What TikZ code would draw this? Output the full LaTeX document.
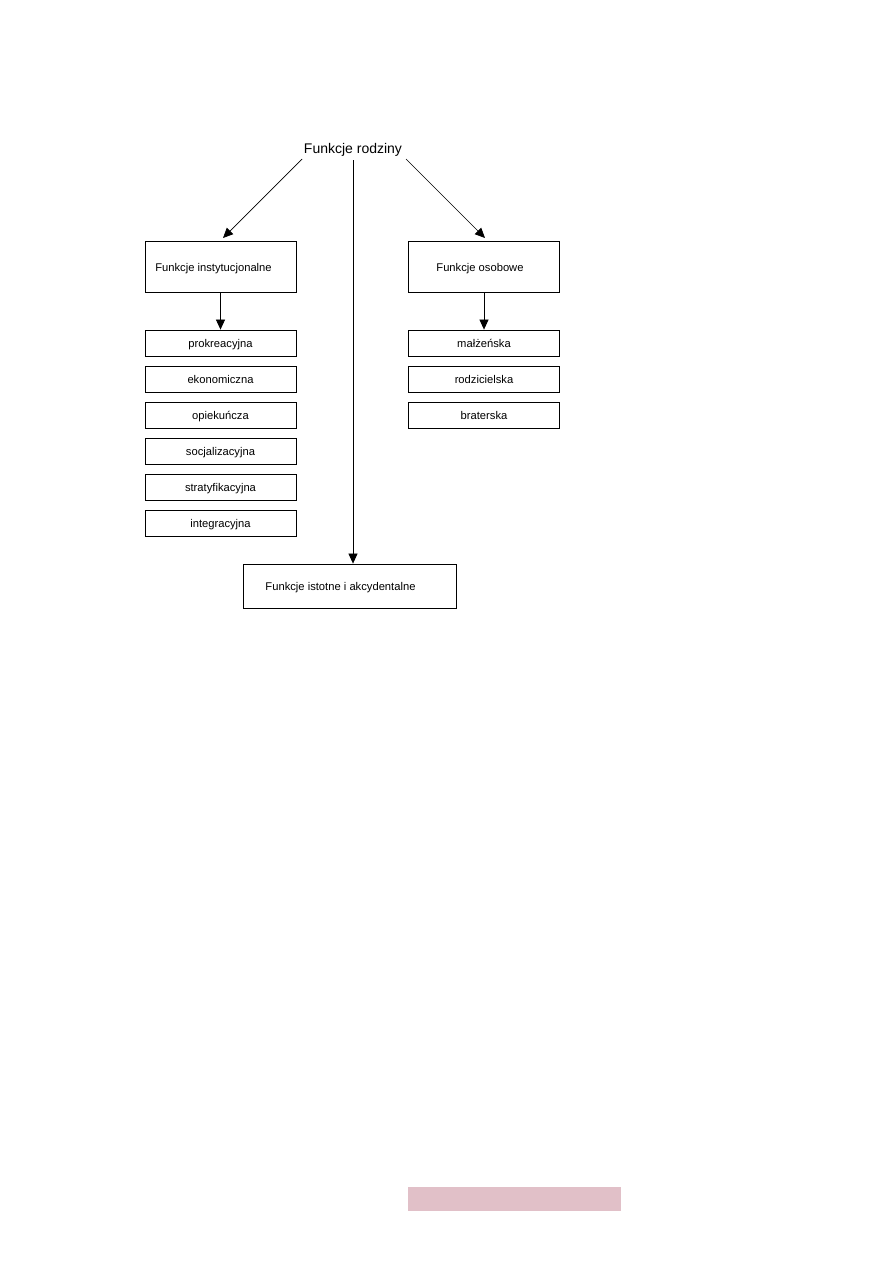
\documentclass[tikz,border=0pt]{standalone}
\usepackage{fontspec}
\setmainfont{Liberation Sans}
\usepackage{tikz}
\usetikzlibrary{positioning,arrows.meta}
\definecolor{PageRose}{RGB}{225,192,200}

\begin{document}
\begin{tikzpicture}[x=1pt, y=-1pt,
    fbox/.style={draw, line width=0.8pt, minimum width=151pt, minimum height=26pt, inner sep=0pt, text height=9pt, text depth=0pt, font=\fontsize{11.2}{13}\selectfont},
    bigbox/.style={fbox, minimum height=51pt},
    link/.style={line width=0.7pt, -{Triangle[length=10pt,width=9pt]}}]
      % Page frame
      \useasboundingbox (0,0) rectangle (893,1263);

      % Root
      \node[font=\fontsize{14}{16}\selectfont] (title) at (353,150) {Funkcje rodziny};

      % Main groups
      \node[bigbox] (inst) at (220.5,266.5) {\hspace*{-14pt}Funkcje instytucjonalne};
      \node[bigbox] (osob) at (484,266.5) {\hspace*{-8pt}Funkcje osobowe};
      \node[fbox, minimum width=213pt, minimum height=44pt] (istot) at (349.5,586) {\hspace*{-18pt}Funkcje istotne i akcydentalne};

      % Lists
      \foreach \i/\txt in {1/prokreacyjna, 2/ekonomiczna, 3/opiekuńcza, 4/socjalizacyjna, 5/stratyfikacyjna, 6/integracyjna} {
        \node[fbox] (inst\i) at (220.5,307+36*\i) {\txt};
      }
      \foreach \i/\txt in {1/małżeńska, 2/rodzicielska, 3/braterska} {
        \node[fbox] (osob\i) at (484,307+36*\i) {\txt};
      }

      % Connectors
      \coordinate (lfrom) at (302,159);
      \coordinate (lto) at (223,238);
      \coordinate (rfrom) at (406,159);
      \coordinate (rto) at (485,238);
      \coordinate (mfrom) at (353,160);
      \draw[link] (lfrom) -- (lto);
      \draw[link] (rfrom) -- (rto);
      \draw[link] (mfrom) -- (istot.north -| mfrom);
      \draw[link] (inst.south) -- (inst1.north);
      \draw[link] (osob.south) -- (osob1.north);

      % Footer band
      \fill[PageRose] (408,1187) rectangle (621,1211);
    \end{tikzpicture}
\end{document}
